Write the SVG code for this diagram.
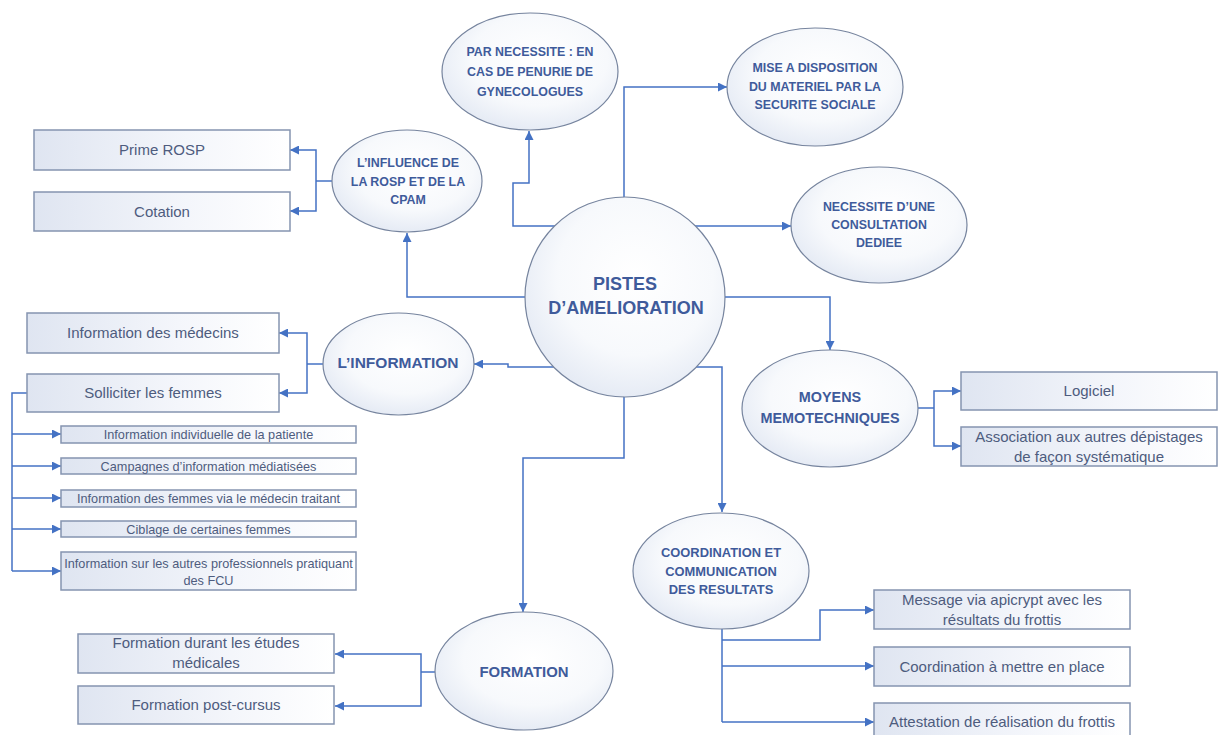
<svg xmlns="http://www.w3.org/2000/svg" width="1219" height="735" viewBox="0 0 1219 735">
<defs>
<linearGradient id="boxg" x1="0" y1="0" x2="1" y2="0">
<stop offset="0" stop-color="#dfe5f1"/>
<stop offset="0.6" stop-color="#f4f6fb"/>
<stop offset="1" stop-color="#ffffff"/>
</linearGradient>
<radialGradient id="ellg" cx="0.55" cy="0.4" r="0.65">
<stop offset="0" stop-color="#ffffff"/>
<stop offset="0.6" stop-color="#f7f9fc"/>
<stop offset="1" stop-color="#e2e8f3"/>
</radialGradient>
<marker id="ah" markerUnits="userSpaceOnUse" markerWidth="9" markerHeight="9" refX="9" refY="4.5" orient="auto">
<path d="M0,0 L9,4.5 L0,9 z" fill="#4472c4"/>
</marker>
<style>
.ell{fill:url(#ellg);stroke:#76849e;stroke-width:1.2}
.box{fill:url(#boxg);stroke:#8594b0;stroke-width:1.5}
.et{font-family:"Liberation Sans",Arial,sans-serif;font-weight:bold;fill:#3f5b9b;text-anchor:middle}
.bt{font-family:"Liberation Sans",Arial,sans-serif;fill:#4e5c7e;text-anchor:middle;font-size:15px}
.st{font-family:"Liberation Sans",Arial,sans-serif;fill:#4e5c7e;text-anchor:middle;font-size:12.7px}
.cn{fill:none;stroke:#4472c4;stroke-width:1.5}
.ca{fill:none;stroke:#4472c4;stroke-width:1.5;marker-end:url(#ah)}
</style>
</defs>
<rect width="1219" height="735" fill="#ffffff"/>

<g id="connectors">
<path class="ca" d="M525,297 H407 V233"/>
<path class="ca" d="M555,226 H513 V183 H529 V131"/>
<path class="ca" d="M624,198 V87 H727"/>
<path class="ca" d="M694,226 H791"/>
<path class="ca" d="M724,297 H830 V350"/>
<path class="ca" d="M694,367 H722 V512"/>
<path class="ca" d="M624,396 V458 H523 V612"/>
<path class="ca" d="M555,367 H508 V364 H474"/>
<path class="cn" d="M332,181 H316"/>
<path class="ca" d="M316,181 V150 H290"/>
<path class="ca" d="M316,181 V211 H290"/>
<path class="cn" d="M323,364 H307"/>
<path class="ca" d="M307,364 V333 H279"/>
<path class="ca" d="M307,364 V393 H279"/>
<path class="cn" d="M27,393 H12 V571"/>
<path class="ca" d="M12,434 H61"/>
<path class="ca" d="M12,466 H61"/>
<path class="ca" d="M12,498 H61"/>
<path class="ca" d="M12,529 H61"/>
<path class="ca" d="M12,571 H61"/>
<path class="cn" d="M918,408 H934"/>
<path class="ca" d="M934,408 V391 H961"/>
<path class="ca" d="M934,408 V446 H961"/>
<path class="cn" d="M722,629 V722"/>
<path class="ca" d="M722,640 H820 V610 H874"/>
<path class="ca" d="M722,666 H874"/>
<path class="ca" d="M722,722 H874"/>
<path class="cn" d="M435,672 H421"/>
<path class="ca" d="M421,672 V654 H335"/>
<path class="ca" d="M421,672 V706 H335"/>
</g>

<g id="pistes">
<circle class="ell" cx="625" cy="297" r="100"/>
<text class="et" font-size="18" x="625" y="290">PISTES</text>
<text class="et" font-size="18" x="626" y="314">D’AMELIORATION</text>
</g>

<g id="influence">
<ellipse class="ell" cx="407" cy="181" rx="75" ry="51"/>
<text class="et" font-size="12.4" x="408" y="167">L’INFLUENCE DE</text>
<text class="et" font-size="12.4" x="408" y="186">LA ROSP ET DE LA</text>
<text class="et" font-size="12.4" x="408" y="204">CPAM</text>
</g>

<g id="penurie">
<ellipse class="ell" cx="530" cy="71.5" rx="88" ry="58.5"/>
<text class="et" font-size="12.4" x="530" y="56">PAR NECESSITE : EN</text>
<text class="et" font-size="12.4" x="530" y="76">CAS DE PENURIE DE</text>
<text class="et" font-size="12.4" x="530" y="96">GYNECOLOGUES</text>
</g>

<g id="materiel">
<ellipse class="ell" cx="815" cy="87" rx="88" ry="59"/>
<text class="et" font-size="12.4" x="815" y="72">MISE A DISPOSITION</text>
<text class="et" font-size="12.4" x="815" y="91">DU MATERIEL PAR LA</text>
<text class="et" font-size="12.4" x="815" y="109">SECURITE SOCIALE</text>
</g>

<g id="consultation">
<ellipse class="ell" cx="879" cy="225" rx="88" ry="58"/>
<text class="et" font-size="12.4" x="879" y="211">NECESSITE D’UNE</text>
<text class="et" font-size="12.4" x="879" y="229">CONSULTATION</text>
<text class="et" font-size="12.4" x="879" y="247">DEDIEE</text>
</g>

<g id="moyens">
<ellipse class="ell" cx="830" cy="408.5" rx="88" ry="58.5"/>
<text class="et" font-size="14.4" x="830" y="402">MOYENS</text>
<text class="et" font-size="14.4" x="830" y="423">MEMOTECHNIQUES</text>
</g>

<g id="information">
<ellipse class="ell" cx="398.5" cy="364" rx="75.5" ry="51"/>
<text class="et" font-size="15.5" x="398" y="368">L’INFORMATION</text>
</g>

<g id="coordination">
<ellipse class="ell" cx="721" cy="571" rx="88" ry="58"/>
<text class="et" font-size="12.9" x="721" y="556.5">COORDINATION ET</text>
<text class="et" font-size="12.9" x="721" y="575.5">COMMUNICATION</text>
<text class="et" font-size="12.9" x="721" y="593.5">DES RESULTATS</text>
</g>

<g id="formation">
<ellipse class="ell" cx="524" cy="671" rx="89" ry="59"/>
<text class="et" font-size="14.9" x="524" y="677">FORMATION</text>
</g>

<g id="prime-rosp">
<rect class="box" x="34" y="130" width="256" height="40"/>
<text class="bt" x="162" y="155">Prime ROSP</text>
</g>
<g id="cotation">
<rect class="box" x="34" y="192" width="256" height="39"/>
<text class="bt" x="162" y="216.5">Cotation</text>
</g>
<g id="info-medecins">
<rect class="box" x="27" y="313" width="252" height="40"/>
<text class="bt" x="153" y="338">Information des médecins</text>
</g>
<g id="solliciter">
<rect class="box" x="27" y="374" width="252" height="38"/>
<text class="bt" x="153" y="398">Solliciter les femmes</text>
</g>
<g id="sub1">
<rect class="box" x="61" y="426" width="295" height="17"/>
<text class="st" x="208.5" y="439">Information individuelle de la patiente</text>
</g>
<g id="sub2">
<rect class="box" x="61" y="458" width="295" height="16"/>
<text class="st" x="208.5" y="470.5">Campagnes d’information médiatisées</text>
</g>
<g id="sub3">
<rect class="box" x="61" y="490" width="295" height="17"/>
<text class="st" x="208.5" y="503">Information des femmes via le médecin traitant</text>
</g>
<g id="sub4">
<rect class="box" x="61" y="521" width="295" height="16"/>
<text class="st" x="208.5" y="533.5">Ciblage de certaines femmes</text>
</g>
<g id="sub5">
<rect class="box" x="61" y="552" width="295" height="38"/>
<text class="st" x="208.5" y="568" font-size="11.2">Information sur les autres professionnels pratiquant</text>
<text class="st" x="208.5" y="585" font-size="11.2">des FCU</text>
</g>
<g id="logiciel">
<rect class="box" x="961" y="372" width="256" height="38"/>
<text class="bt" x="1089" y="396">Logiciel</text>
</g>
<g id="association">
<rect class="box" x="961" y="427" width="256" height="39"/>
<text class="bt" x="1089" y="442">Association aux autres dépistages</text>
<text class="bt" x="1089" y="462">de façon systématique</text>
</g>
<g id="message">
<rect class="box" x="874" y="590" width="256" height="39"/>
<text class="bt" x="1002" y="605">Message via apicrypt avec les</text>
<text class="bt" x="1002" y="625">résultats du frottis</text>
</g>
<g id="coordination-box">
<rect class="box" x="874" y="647" width="256" height="39"/>
<text class="bt" x="1002" y="672">Coordination à mettre en place</text>
</g>
<g id="attestation">
<rect class="box" x="874" y="703" width="256" height="40"/>
<text class="bt" x="1002" y="727">Attestation de réalisation du frottis</text>
</g>
<g id="formation-etudes">
<rect class="box" x="78" y="634" width="256" height="39"/>
<text class="bt" x="206" y="648">Formation durant les études</text>
<text class="bt" x="206" y="668">médicales</text>
</g>
<g id="formation-post">
<rect class="box" x="78" y="686" width="256" height="38"/>
<text class="bt" x="206" y="710">Formation post-cursus</text>
</g>
</svg>
